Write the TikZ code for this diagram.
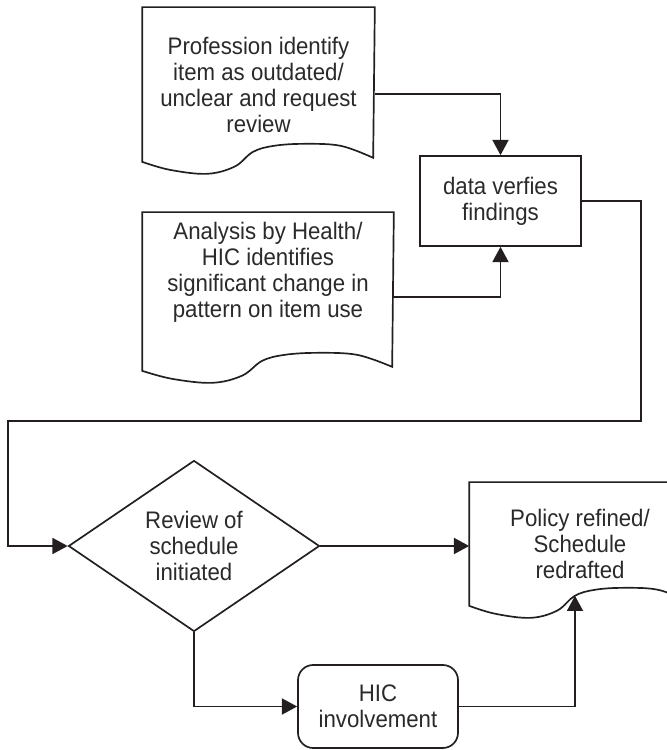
\documentclass[tikz,border=0pt]{standalone}
\usepackage{fontspec}
\setmainfont{Liberation Sans}[FakeStretch=0.93]
\usepackage{tikz}
\usetikzlibrary{shapes.geometric,arrows.meta,positioning,calc}
\definecolor{FlowBlack}{HTML}{231F20}
\definecolor{FlowText}{HTML}{2A2A2A}
\definecolor{FlowWhite}{HTML}{FFFFFF}
\tikzset{
    % Base node style
    basenode/.style={
        draw=FlowBlack,
        fill=FlowWhite,
        line width=1.2pt,
        align=center,
        inner sep=0pt,
        text=FlowText,
        font=\fontsize{17}{18.5}\selectfont
    },
    % Document text area (outline drawn by \docoutline)
    docnode/.style={
        basenode,
        draw=none,
        fill=none
    },
    % Process box
    processnode/.style={
        basenode,
        minimum width=4.025cm,
        minimum height=2.25cm
    },
    % Decision diamond
    decisionnode/.style={
        basenode,
        diamond,
        aspect=1.47,
        minimum width=6.275cm,
        minimum height=4.275cm
    },
    % Rounded box
    roundnode/.style={
        basenode,
        rounded corners=0.38cm,
        minimum width=4cm,
        minimum height=2.075cm
    },
    % Outline of document shapes
    docline/.style={
        line width=1.2pt,
        draw=FlowBlack
    },
    % Arrow style
    myarrow/.style={
        -{Triangle[length=3.8mm,width=4mm]},
        line width=1.2pt,
        draw=FlowBlack
    }
}
% Document outline: node, width (cm), extra depth below node (cm)
\newcommand{\docoutline}[3]{%
    \begin{scope}[shift={($(#1.south west)+(0,-#3)$)}, x=#2cm, y=1cm]
        \draw[docline] (#1.north west) -- (0,0)
            -- plot[smooth, tension=0.6] coordinates {(0,0) (0.12,-0.2) (0.28,-0.3) (0.4,-0.12) (0.48,0.25) (0.57,0.4) (0.7,0.45) (0.86,0.4) (1,0.1)}
            -- (#1.north east) -- cycle;
    \end{scope}}

\begin{document}
\begin{tikzpicture}
    \useasboundingbox (0,0) rectangle (16.675,18.75);
    \clip (0,0) rectangle (16.675,18.75);

    % Inputs
    \node[docnode, minimum width=5.775cm, minimum height=3.825cm] (request) at (6.4625,16.6375) {Profession identify\\item as outdated/\\unclear and request\\review};
    \node[docnode, minimum width=6.25cm, minimum height=2.95cm] (analysis) at (6.7,11.95) {Analysis by Health/\\HIC identifies\\significant change in\\pattern on item use};
    \docoutline{request}{5.775}{0}
    \docoutline{analysis}{6.25}{0.975}

    % Verification
    \node[processnode] (verify) at (12.5125,13.725) {data verfies\\findings};

    % Review
    \node[decisionnode] (review) at (4.85,5.1) {Review of\\schedule\\initiated};

    % Outcome
    \node[docnode, minimum width=5.5cm, minimum height=3.05cm] (policy) at (14.5,5.15) {Policy refined/\\Schedule\\redrafted};
    \docoutline{policy}{5.5}{0}

    % HIC
    \node[roundnode] (hic) at (9.45,1.0875) {HIC\\involvement};

    % Turning points
    \coordinate (loopright) at (16.025,8.225);
    \coordinate (loopleft) at (0.2,8.225);
    \coordinate (policywave) at (14.375,3.855);

    % Arrows
    \draw[myarrow] ([yshift=-2.4mm]request.east) -| (verify.north);
    \draw[myarrow] ([yshift=-6.25mm]analysis.east) -| (verify.south);
    \draw[myarrow] (verify.east) -| (loopright) -- (loopleft) |- (review.west);
    \draw[myarrow] (review.east) -- (review.east -| policy.west);
    \draw[myarrow] (review.south) |- (hic.west);
    \draw[myarrow] (hic.east) -| (policywave);
\end{tikzpicture}
\end{document}
